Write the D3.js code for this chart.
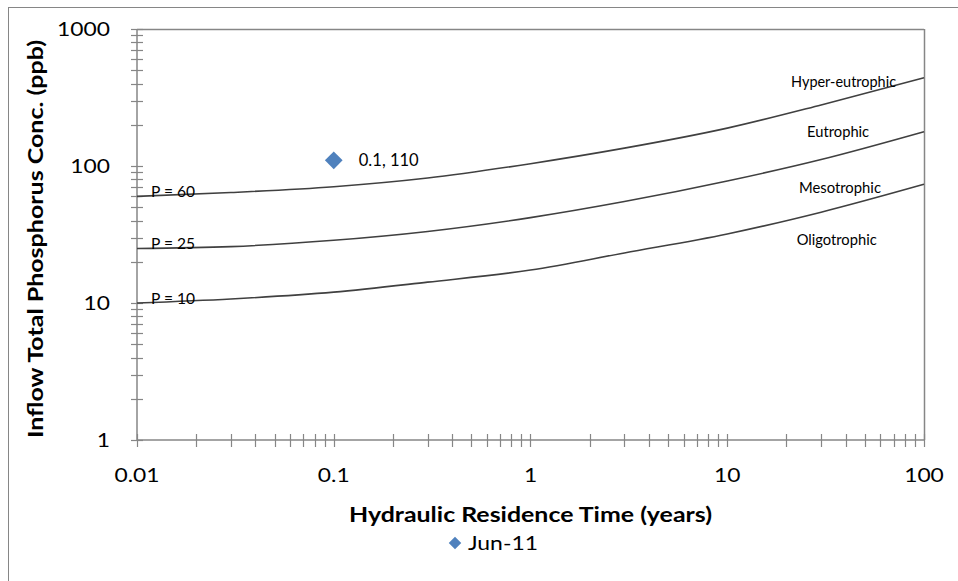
<!DOCTYPE html>
<html>
<head>
<meta charset="utf-8">
<script src="https://cdn.jsdelivr.net/npm/d3@7"></script>
<style>
  html, body { margin: 0; padding: 0; background: #fff; }
  svg { display: block; }
  text { font-family: Lato, "Open Sans", sans-serif; fill: #000; }
</style>
</head>
<body>
<svg id="chart" width="958" height="581"></svg>
<script>
// Residence time (years) at which each trophic boundary curve is sampled
const residenceTimes = [0.01, 0.03, 0.1, 0.3, 1, 3, 10, 30, 100];

// Inflow total phosphorus (ppb) along each boundary line
const boundary60 = [60, 64, 70.6, 81.7, 104, 135, 189, 279, 441];
const boundary25 = [25, 25.8, 28.7, 33.3, 42, 55, 77.7, 111.5, 178];
const boundary10 = [10, 10.7, 12, 14.2, 17.4, 23.2, 31.9, 46, 73.5];
const boundaryNames = ["P = 60", "P = 25", "P = 10"];

// Trophic zone labels, anchored at a residence time / concentration
const zoneNames = ["Hyper-eutrophic", "Eutrophic", "Mesotrophic", "Oligotrophic"];
const zoneTau = [39, 36.6, 37.4, 36];
const zoneConc = [378, 163, 63.5, 26.5];

// Observed lake data point
const seriesName = "Jun-11";
const obsTau = [0.1];
const obsConc = [110];

// Axis ticks
const xTickValues = [0.01, 0.1, 1, 10, 100];
const yTickValues = [1, 10, 100, 1000];

const svg = d3.select("#chart");
const W = 958, H = 581;
const margin = { left: 137, right: 34, top: 29, bottom: 141 };
const plotW = W - margin.left - margin.right;
const plotH = H - margin.top - margin.bottom;

const axisColor = "#868686";
const textStretch = 1.17; // wide-set lettering used throughout the chart

// Draw a text with a horizontal stretch around its anchor point
function label(parent, txt, px, py, opts) {
  const o = Object.assign({ size: 15, anchor: "start", weight: "normal", k: textStretch, rotate: 0 }, opts);
  const t = parent.append("text")
    .attr("transform", `translate(${px},${py}) rotate(${o.rotate}) scale(${o.k},1)`)
    .attr("text-anchor", o.anchor)
    .attr("font-size", o.size)
    .attr("font-weight", o.weight)
    .text(txt);
  if (o.width) {
    const w = t.node().getComputedTextLength();
    t.attr("transform", `translate(${px},${py}) rotate(${o.rotate}) scale(${o.width / w},1)`);
  }
  return t;
}

// Outer chart frame
svg.append("rect")
  .attr("x", 8.5).attr("y", 7.5)
  .attr("width", 1000).attr("height", 1000)
  .attr("fill", "none").attr("stroke", axisColor).attr("stroke-width", 1);

const x = d3.scaleLog().domain([0.01, 100]).range([margin.left, margin.left + plotW]);
const y = d3.scaleLog().domain([1, 1000]).range([margin.top + plotH, margin.top]);

// Minor tick positions for log axes
function logTicks(lo, hi) {
  const out = [];
  for (let d = lo; d < hi; d *= 10) {
    for (let k = 1; k <= 10; k++) out.push(d * k);
  }
  return Array.from(new Set(out.map(v => +v.toPrecision(6))));
}

const g = svg.append("g");

// Plot area border (top and right)
g.append("line")
  .attr("x1", x(0.01)).attr("x2", x(100))
  .attr("y1", y(1000) + 0.5).attr("y2", y(1000) + 0.5)
  .attr("stroke", axisColor).attr("stroke-width", 1.5);
g.append("line")
  .attr("x1", x(100) + 0.5).attr("x2", x(100) + 0.5)
  .attr("y1", y(1000)).attr("y2", y(1))
  .attr("stroke", axisColor).attr("stroke-width", 1.5);

// X axis: line with ticks crossing it
const xAxisG = g.append("g");
xAxisG.append("line")
  .attr("x1", x(0.01)).attr("x2", x(100))
  .attr("y1", y(1)).attr("y2", y(1))
  .attr("stroke", axisColor).attr("stroke-width", 1.5);
xAxisG.selectAll("line.tick")
  .data(logTicks(0.01, 100))
  .join("line")
  .attr("class", "tick")
  .attr("x1", d => Math.round(x(d)) + 0.5).attr("x2", d => Math.round(x(d)) + 0.5)
  .attr("y1", y(1) - 6).attr("y2", y(1) + 7)
  .attr("stroke", axisColor).attr("stroke-width", 1.2);
xTickValues.forEach(v => label(xAxisG, String(v), x(v), y(1) + 42, { size: 19.5, anchor: "middle" }));

// Y axis
const yAxisG = g.append("g");
yAxisG.append("line")
  .attr("x1", x(0.01)).attr("x2", x(0.01))
  .attr("y1", y(1)).attr("y2", y(1000))
  .attr("stroke", axisColor).attr("stroke-width", 1.5);
yAxisG.selectAll("line.tick")
  .data(logTicks(1, 1000))
  .join("line")
  .attr("class", "tick")
  .attr("x1", x(0.01) - 6).attr("x2", x(0.01) + 6)
  .attr("y1", d => Math.round(y(d)) + 0.5).attr("y2", d => Math.round(y(d)) + 0.5)
  .attr("stroke", axisColor).attr("stroke-width", 1.2);
yTickValues.forEach(v => label(yAxisG, String(v), x(0.01) - 27, y(v) + 7, { size: 19.5, anchor: "end" }));

// Boundary curves
const line = d3.line()
  .x(d => x(d[0]))
  .y(d => y(d[1]))
  .curve(d3.curveMonotoneX);

const boundaries = [boundary60, boundary25, boundary10];
boundaries.forEach((vals, i) => {
  const pts = residenceTimes.map((t, j) => [t, vals[j]]);
  g.append("path")
    .attr("d", line(pts))
    .attr("fill", "none")
    .attr("stroke", "#404040")
    .attr("stroke-width", 1.6);
  label(g, boundaryNames[i], x(0.01) + 14, y(vals[0]) + 0.5, { size: 15, width: 44 });
});

// Zone labels
const zoneWidths = [105, 62, 82, 80];
zoneNames.forEach((name, i) => {
  label(g, name, x(zoneTau[i]), y(zoneConc[i]), { size: 14.8, anchor: "middle", width: zoneWidths[i] });
});

// Observed point with its data label
const obs = obsTau.map((t, i) => [t, obsConc[i]]);
g.selectAll("path.obs")
  .data(obs)
  .join("path")
  .attr("class", "obs")
  .attr("d", d3.symbol().type(d3.symbolDiamond2).size(200))
  .attr("transform", d => `translate(${x(d[0])},${y(d[1])})`)
  .attr("fill", "#4F81BD");
obs.forEach(d => label(g, `${d[0]}, ${d[1]}`, x(d[0]) + 25, y(d[1]) + 6, { size: 17, width: 60 }));

// Axis titles
label(svg, "Hydraulic Residence Time (years)", (x(0.01) + x(100)) / 2, 522,
  { size: 21, anchor: "middle", weight: "bold", width: 363 });
label(svg, "Inflow Total Phosphorus Conc. (ppb)", 43, 239,
  { size: 21, anchor: "middle", weight: "bold", width: 398, rotate: -90 });

// Legend
const legend = svg.append("g").attr("transform", "translate(455,543)");
legend.append("path")
  .attr("d", d3.symbol().type(d3.symbolDiamond2).size(100))
  .attr("fill", "#4F81BD");
label(legend, seriesName, 13, 7, { size: 19.5, width: 70 });
</script>
</body>
</html>
